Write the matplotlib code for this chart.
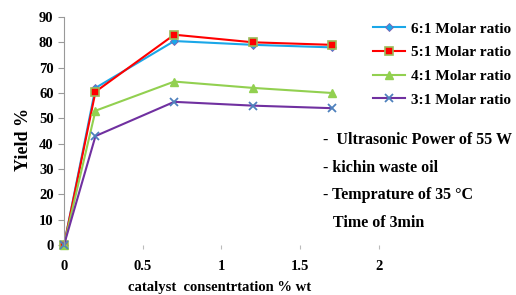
import matplotlib
matplotlib.use('Agg')
import matplotlib.pyplot as plt

# данные
x = [0, 0.2, 0.7, 1.2, 1.7]
r6 = [0, 62, 80.5, 79, 78]
r5 = [0, 60.5, 83, 80, 79]
r4 = [0, 53, 64.5, 62, 60]
r3 = [0, 43, 56.5, 55, 54]
labels = ['6:1 Molar ratio', '5:1 Molar ratio', '4:1 Molar ratio', '3:1 Molar ratio']

plt.rcParams['font.family'] = 'Liberation Serif'
plt.rcParams['font.weight'] = 'bold'

fig = plt.figure(figsize=(5.16, 2.95), dpi=100)
ax = fig.add_axes([0.124, 0.1695, 0.6105, 0.773])

ax.plot(x, r6, color='#1aa7e8', lw=1.5, marker='D', ms=4.5, mfc='#1aa7e8', mec='#7f5fb0', mew=0.6,
        label=labels[0], clip_on=False)
ax.plot(x, r5, color='#ff0000', lw=1.5, marker='s', ms=6, mfc='#ff0000', mec='#9bbb59', mew=1.2,
        label=labels[1], clip_on=False)
ax.plot(x, r4, color='#92d050', lw=1.5, marker='^', ms=6, mfc='#92d050', mec='#92d050',
        label=labels[2], clip_on=False)
ax.plot(x, r3, color='#7030a0', lw=1.5, marker='x', ms=6, mec='#4f81bd', mew=1.3,
        label=labels[3], clip_on=False)

ax.set_xlim(0, 2)
ax.set_ylim(0, 90)
ax.set_xticks([0, 0.5, 1, 1.5, 2])
ax.set_xticklabels(['0', '0.5', '1', '1.5', '2'])
ax.set_yticks(range(0, 91, 10))

for s in ['top', 'right', 'bottom']:
    ax.spines[s].set_visible(False)
ax.spines['left'].set_color('#999999')
ax.tick_params(axis='y', colors='#999999', labelcolor='black', labelsize=10.5, length=4, direction='out')
ax.tick_params(axis='x', colors='#bbbbbb', labelcolor='black', labelsize=10.5, length=3, pad=8)

ax.set_ylabel('Yield %', fontsize=13, fontweight='bold')
ax.yaxis.set_label_coords(-0.10, 0.465)
ax.set_xlabel('catalyst  consentrtation % wt', fontsize=10.5, fontweight='bold')
ax.xaxis.set_label_coords(0.495, -0.158)

ax.legend(loc='upper left', bbox_to_anchor=(0.96, 1.005), frameon=False, fontsize=11,
          handlelength=2.1, labelspacing=0.65, handletextpad=0.45, borderaxespad=0)

# подписи условий
fig.text(0.626, 0.525, '-  Ultrasonic Power of 55 W', fontsize=11.5, fontweight='bold', va='center')
fig.text(0.626, 0.43, '- kichin waste oil', fontsize=11.5, fontweight='bold', va='center')
fig.text(0.626, 0.338, '- Temprature of 35 \u00b0C', fontsize=11.5, fontweight='bold', va='center')
fig.text(0.645, 0.245, 'Time of 3min', fontsize=11.5, fontweight='bold', va='center')

fig.savefig('out.png', dpi=100)
